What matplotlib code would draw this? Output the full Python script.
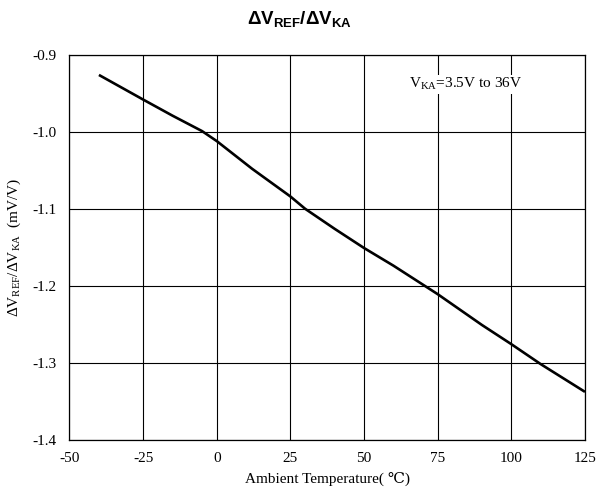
import matplotlib
matplotlib.use("Agg")
import matplotlib.pyplot as plt

temps = [-40, -25, -15, -10, -5, 0, 5, 12, 25, 30, 40, 50, 60, 75, 90, 100, 110, 125]
ratio = [-0.926, -0.958, -0.979, -0.989, -0.999, -1.012, -1.027, -1.048,
         -1.084, -1.100, -1.126, -1.151, -1.174, -1.211, -1.251, -1.276,
         -1.302, -1.338]
xticks = [-50, -25, 0, 25, 50, 75, 100, 125]
yticks = [-1.4, -1.3, -1.2, -1.1, -1.0, -0.9]

plt.rcParams['font.family'] = ['Liberation Serif', 'DejaVu Serif']
plt.rcParams['mathtext.fontset'] = 'custom'
plt.rcParams['mathtext.rm'] = 'Liberation Serif'
plt.rcParams['mathtext.it'] = 'Liberation Serif'
plt.rcParams['mathtext.bf'] = 'Liberation Sans:bold'

fig = plt.figure(figsize=(5.99, 4.95), dpi=100)
ax = fig.add_axes([0.116, 0.112, 0.8606, 0.777])

ax.plot(temps, ratio, color='black', lw=1.9, solid_capstyle='butt',
        solid_joinstyle='round')

ax.set_xlim(-50, 125)
ax.set_ylim(-1.4, -0.9)
ax.set_xticks(xticks)
ax.set_xticklabels([f"{t:d}" for t in xticks])
ax.set_yticks(yticks)
ax.set_yticklabels([f"{v:.1f}" for v in yticks])
ax.tick_params(length=0, labelsize=11, pad=9, colors='black')
ax.grid(True, color='black', lw=0.8)
for s in ax.spines.values():
    s.set_linewidth(0.9)
    s.set_color('black')

ax.set_xlabel('Ambient Temperature( \u2103)', fontsize=11, labelpad=5)
ax.set_ylabel(r'$\mathrm{\Delta V_{REF}/\Delta V_{KA}}$  (mV/V)', fontsize=11, labelpad=7)

ax.text(103.8, -0.938, r'$\mathrm{V_{KA}}$=3.5V to 36V', fontsize=11,
        ha='right', va='center',
        bbox=dict(facecolor='white', edgecolor='none', pad=1))

fig.text(0.5, 0.962, r'$\mathbf{\Delta V_{REF}/\Delta V_{KA}}$', ha='center',
         va='center', fontsize=13.5)

fig.savefig('out.png', dpi=100, facecolor='white')
